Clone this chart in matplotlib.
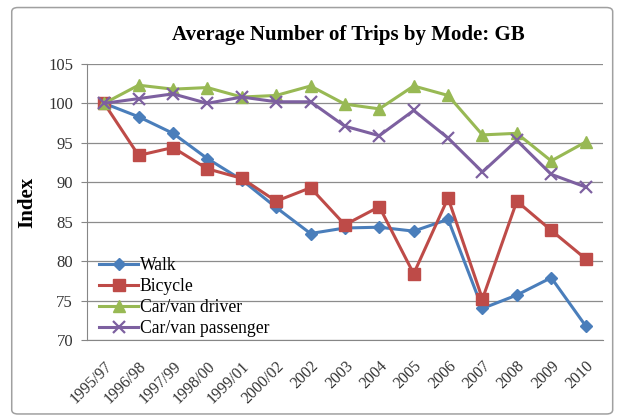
import numpy as np
import matplotlib
matplotlib.use("Agg")
import matplotlib.pyplot as plt
from matplotlib.patches import FancyBboxPatch

plt.rcParams['font.family'] = ['Liberation Serif', 'DejaVu Serif']

years = ["1995/97", "1996/98", "1997/99", "1998/00", "1999/01", "2000/02", "2002",
         "2003", "2004", "2005", "2006", "2007", "2008", "2009", "2010"]
walk = [100, 98.3, 96.2, 93.0, 90.3, 86.8, 83.5, 84.2, 84.3, 83.8, 85.3, 74.0, 75.7, 77.9, 71.8]
bicycle = [100, 93.4, 94.4, 91.7, 90.5, 87.6, 89.3, 84.6, 86.9, 78.4, 88.0, 75.2, 87.6, 83.9, 80.3]
driver = [100, 102.3, 101.8, 102.0, 100.8, 101.0, 102.2, 99.9, 99.3, 102.2, 101.0, 96.0, 96.2, 92.7, 95.1]
passenger = [100, 100.6, 101.2, 100.0, 100.8, 100.2, 100.2, 97.1, 95.9, 99.1, 95.6, 91.3, 95.3, 91.0, 89.4]

fig = plt.figure(figsize=(6.17, 4.19), dpi=100)
# chart border
fig.patches.append(FancyBboxPatch((0.019, 0.012), 0.974, 0.97, boxstyle="round,pad=0,rounding_size=0.01",
                                  transform=fig.transFigure, fc="none", ec="#a0a0a0", lw=1.1))
ax = fig.add_axes([0.141, 0.1885, 0.836, 0.659])

x = np.arange(len(years))
ax.plot(x, walk, color="#4a7ebb", lw=2.2, marker="D", ms=6, label="Walk")
ax.plot(x, bicycle, color="#be4b48", lw=2.2, marker="s", ms=8, label="Bicycle")
ax.plot(x, driver, color="#98b954", lw=2.2, marker="^", ms=8, label="Car/van driver")
ax.plot(x, passenger, color="#7d60a0", lw=2.2, marker="x", ms=8, mew=1.6, label="Car/van passenger")

ax.set_xlim(-0.5, len(years) - 0.5)
ax.set_ylim(70, 105)
ax.set_yticks(range(70, 106, 5))
ax.set_xticks(x)
ax.set_xticklabels(years, rotation=45, ha="right", rotation_mode="anchor", fontsize=11.5,
                   color="#333333")
ax.tick_params(axis="y", labelsize=12, length=4, color="#868686", pad=6, labelcolor="#333333")
ax.tick_params(axis="x", length=0, pad=13)
ax.grid(axis="y", color="#8c8c8c", lw=0.9)
ax.set_axisbelow(True)
for s in ["top", "right"]:
    ax.spines[s].set_visible(False)
for s in ["left", "bottom"]:
    ax.spines[s].set_color("#868686")

ax.set_ylabel("Index", fontsize=15, fontweight="bold", labelpad=8)
fig.text(0.564, 0.916, "Average Number of Trips by Mode: GB", ha="center", va="center",
         fontsize=15, fontweight="bold")

ax.legend(loc="lower left", frameon=False, fontsize=12.7, handlelength=2.2,
          handletextpad=0.1, labelspacing=0.22, borderaxespad=0.0,
          bbox_to_anchor=(0.01, -0.015))

fig.savefig("out.png", dpi=100)
